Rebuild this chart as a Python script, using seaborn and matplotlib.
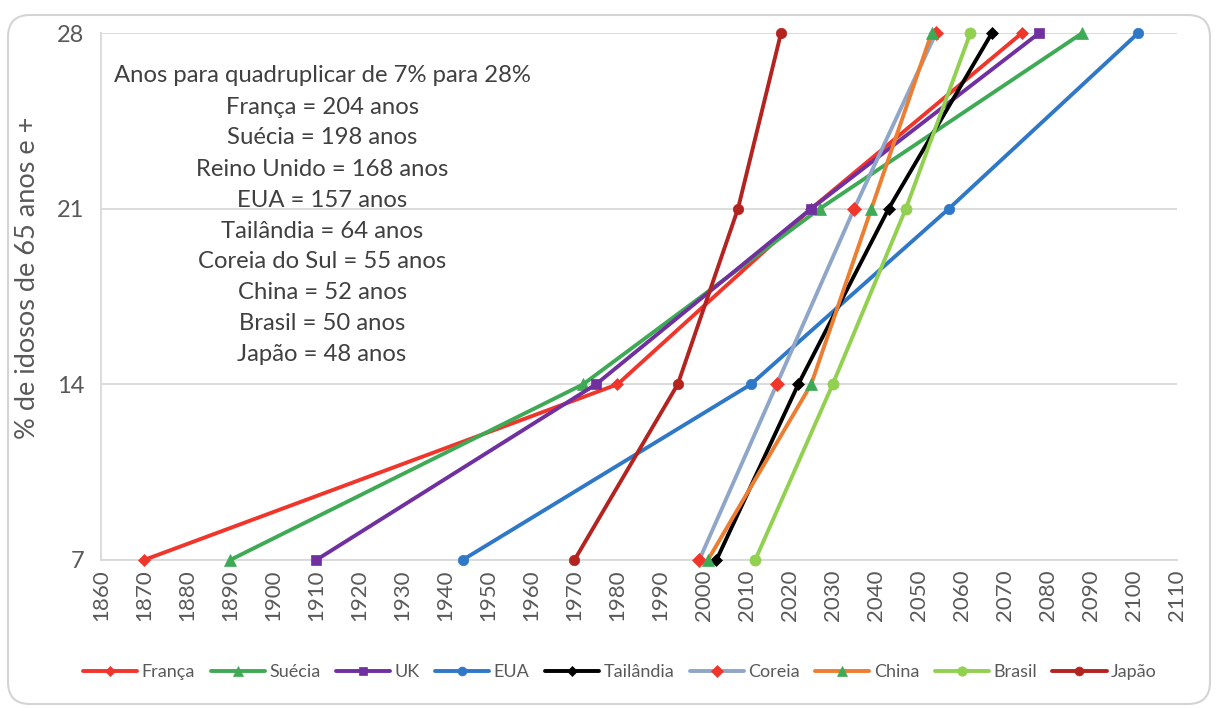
import matplotlib
matplotlib.use("Agg")
import matplotlib.pyplot as plt
from matplotlib.patches import FancyBboxPatch
import seaborn as sns
import pandas as pd

# Percentage levels of people aged 65+ reached by each country
niveis = [7, 14, 21, 28]

# Year in which each level is reached
franca = [1870, 1980, 2025, 2074]
suecia = [1890, 1972, 2027, 2088]
uk = [1910, 1975, 2025, 2078]
eua = [1944, 2011, 2057, 2101]
tailandia = [2003, 2022, 2043, 2067]
coreia = [1999, 2017, 2035, 2054]
china = [2001, 2025, 2039, 2053]
brasil = [2012, 2030, 2047, 2062]
japao = [1970, 1994, 2008, 2018]

series_nomes = ["França", "Suécia", "UK", "EUA", "Tailândia", "Coreia", "China", "Brasil", "Japão"]
series_anos = [franca, suecia, uk, eua, tailandia, coreia, china, brasil, japao]

# Years needed to go from 7% to 28%
paises_texto = ["França", "Suécia", "Reino Unido", "EUA", "Tailândia",
                "Coreia do Sul", "China", "Brasil", "Japão"]
anos_quadruplicar = [204, 198, 168, 157, 64, 55, 52, 50, 48]

x_ticks = list(range(1860, 2111, 10))
y_ticks = [7, 14, 21, 28]

# line colour, marker, marker colour, marker size
estilos = {
    "França":    ("#F0352B", "D", "#F0352B", 6),
    "Suécia":    ("#3FAA55", "^", "#3FAA55", 8),
    "UK":        ("#7030A0", "s", "#7030A0", 7.5),
    "EUA":       ("#2F78C8", "o", "#2F78C8", 7.5),
    "Tailândia": ("#000000", "D", "#000000", 6.5),
    "Coreia":    ("#8FA6C9", "D", "#F0352B", 7),
    "China":     ("#ED7D31", "^", "#3FAA55", 9),
    "Brasil":    ("#92D050", "o", "#92D050", 8),
    "Japão":     ("#B4231F", "o", "#B4231F", 7.5),
}

rows = []
for nome, anos in zip(series_nomes, series_anos):
    for a, n in zip(anos, niveis):
        rows.append({"pais": nome, "ano": a, "pct": n})
df = pd.DataFrame(rows)

sns.set_theme(style="white")
plt.rcParams["font.family"] = ["Lato", "DejaVu Sans"]

fig = plt.figure(figsize=(12.17, 7.08), dpi=100)
ax = fig.add_axes([101 / 1217, 1 - 560 / 708, (1177 - 101) / 1217, (560 - 33) / 708])

for nome in series_nomes:
    cor, mk, mcor, ms = estilos[nome]
    sub = df[df["pais"] == nome]
    sns.lineplot(data=sub, x="ano", y="pct", ax=ax, color=cor, linewidth=2.8,
                 marker=mk, markersize=ms, markerfacecolor=mcor, markeredgecolor=mcor,
                 markeredgewidth=0.5, estimator=None, sort=False, label=nome,
                 clip_on=False, zorder=3)

ax.set_xlim(1860, 2110)
ax.set_ylim(7, 28)
ax.set_xticks(x_ticks)
ax.set_xticklabels([str(t) for t in x_ticks], rotation=90, fontsize=16, color="#595959")
ax.set_yticks(y_ticks)
ax.set_yticklabels([str(t) for t in y_ticks], fontsize=17, color="#595959")
ax.tick_params(axis="x", length=0, pad=7)
ax.tick_params(axis="y", length=0, pad=12)
ax.set_xlabel("")
ax.set_ylabel("% de idosos de 65 anos e +", fontsize=19.5, color="#595959")
ax.yaxis.set_label_coords(-0.057, 0.535)

ax.grid(axis="y", color="#D9D9D9", linewidth=1.3)
ax.grid(axis="x", visible=False)
for s in ["top", "right"]:
    ax.spines[s].set_visible(False)
for s in ["left", "bottom"]:
    ax.spines[s].set_color("#D9D9D9")
    ax.spines[s].set_linewidth(1.3)

# Summary text block
linhas = ["Anos para quadruplicar de 7% para 28%"] + \
    [f"{p} = {a} anos" for p, a in zip(paises_texto, anos_quadruplicar)]
y0 = 76
for i, ln in enumerate(linhas):
    fig.text(322 / 1217, 1 - (y0 + i * 31) / 708, ln, ha="center", va="center",
             fontsize=17.2, color="#404040")

leg = ax.get_legend()
if leg is not None:
    leg.remove()
handles, labels = ax.get_legend_handles_labels()
fig.legend(handles, labels, loc="center", bbox_to_anchor=(620 / 1217, 1 - 672 / 708),
           ncol=9, frameon=False, fontsize=13, handlelength=3.0, columnspacing=0.85,
           handletextpad=0.25, labelcolor="#595959", markerscale=0.85)

# Rounded chart border
frame = FancyBboxPatch((0.08, 0.04), 12.02, 6.89, boxstyle="round,pad=0,rounding_size=0.22",
                       transform=fig.dpi_scale_trans, facecolor="none",
                       edgecolor="#D4D4D4", linewidth=1.5)
fig.patches.append(frame)

fig.savefig("out.png", dpi=100)
